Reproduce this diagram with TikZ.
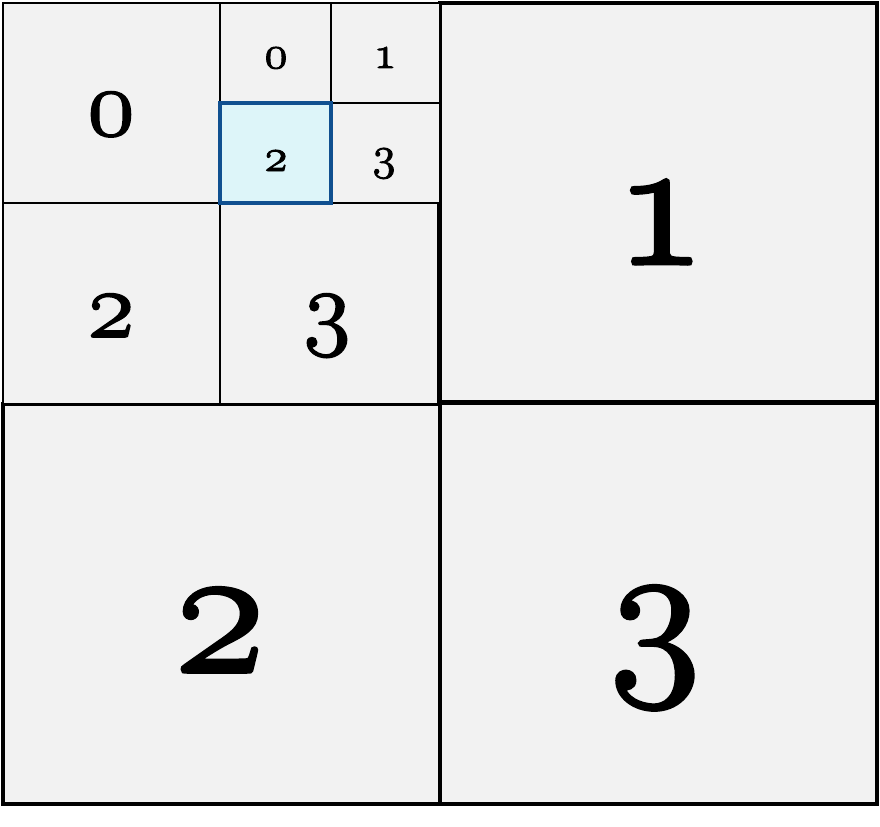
\documentclass[tikz,border=0pt]{standalone}
\usepackage{fix-cm}
\usepackage{tikz}
\usetikzlibrary{positioning}
\definecolor{cellgray}{RGB}{242,242,242}
\definecolor{selfill}{RGB}{221,245,249}
\definecolor{selblue}{RGB}{16,80,144}
% old-style digit, stroked a little to thicken it
\newcommand{\qnum}[2]{{\usefont{OML}{cmm}{m}{it}%
  \special{pdf:literal direct q 2 Tr #1 w}#2\special{pdf:literal direct Q}}}
\tikzset{quad/.style={draw=black,fill=cellgray,line width=3pt}}
\tikzset{subquad/.style={draw=black,fill=cellgray,line width=2pt}}
\tikzset{leaf/.style={draw=black,fill=cellgray,line width=1.2pt}}
\tikzset{chosen/.style={draw=selblue,fill=selfill,line width=2.6pt}}
\tikzset{bignum/.style={anchor=base,inner sep=0pt,font=\fontsize{140}{150}\selectfont}}
\tikzset{midnum/.style={anchor=base,inner sep=0pt,font=\fontsize{72}{80}\selectfont}}
\tikzset{smallnum/.style={anchor=base,inner sep=0pt,font=\fontsize{35}{40}\selectfont}}

\begin{document}
\begin{tikzpicture}[x=0.75pt,y=-0.75pt]
    \useasboundingbox (0,0) rectangle (880,826);

    % level 1
    \draw[quad] (440,3)   rectangle (877,402);
    \draw[quad] (3,404)   rectangle (440,804);
    \draw[quad] (440,403) rectangle (877,804);

    % level 2, inside quadrant 0
    \draw[subquad] (3,3)     rectangle (220,203);
    \draw[subquad] (3,203)   rectangle (220,404);
    \draw[subquad] (220,203) rectangle (438,404);

    % level 3, inside quadrant 0.1
    \draw[leaf]   (220,3)   rectangle (331,103);
    \draw[leaf]   (331,3)   rectangle (440,103);
    \draw[leaf]   (331,103) rectangle (440,203);
    \draw[chosen] (220,103) rectangle (331,203);

    \node[bignum]   (q1)   at (660,264) {\qnum{2.6}{1}};
    \node[bignum]   (q2)   at (220,672) {\qnum{2.6}{2}};
    \node[bignum]   (q3)   at (655,670) {\qnum{2.6}{3}};
    \node[midnum]   (q00)  at (111,135) {\qnum{1.3}{0}};
    \node[midnum]   (q02)  at (111,337) {\qnum{1.3}{2}};
    \node[midnum]   (q03)  at (327,337) {\qnum{1.3}{3}};
    \node[smallnum] (q010) at (276,68)  {\qnum{0.7}{0}};
    \node[smallnum] (q011) at (385,68)  {\qnum{0.7}{1}};
    \node[smallnum] (q012) at (276,171) {\qnum{0.7}{2}};
    \node[smallnum] (q013) at (384,169) {\qnum{0.7}{3}};
\end{tikzpicture}
\end{document}
